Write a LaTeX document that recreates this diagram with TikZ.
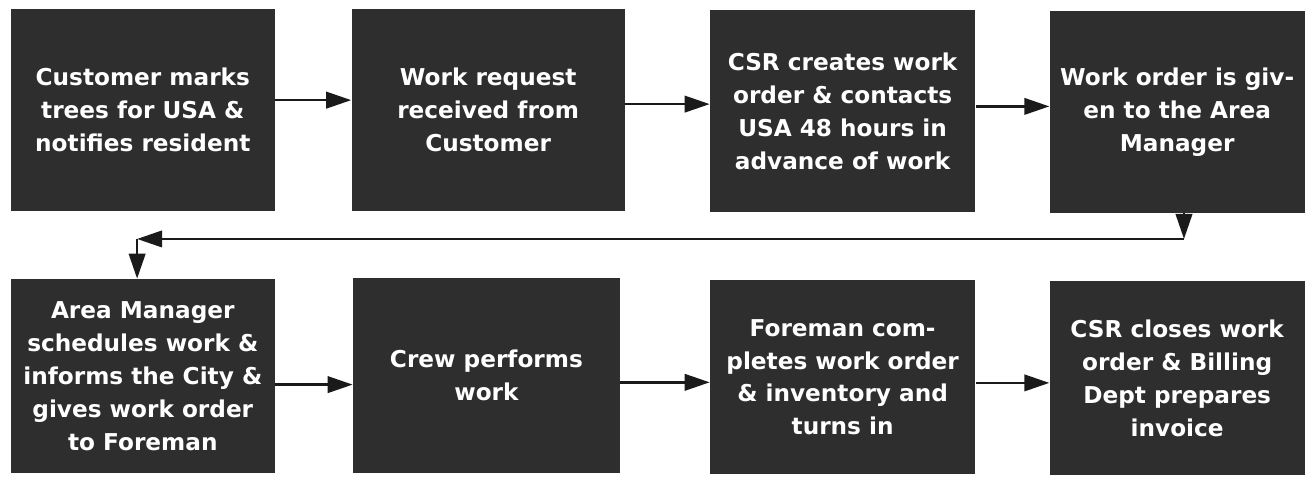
\documentclass[tikz,border=0pt]{standalone}
\usepackage{fontspec}
\setmainfont{DejaVu Sans}
\usepackage{tikz}
\usepackage{xcolor}
\usetikzlibrary{arrows.meta,positioning}
\definecolor{ink}    {HTML}{1A1A1A}
\definecolor{boxdark}{HTML}{2E2E2E}
\tikzset{
  stepbox/.style ={fill=boxdark, draw=none, text=white,
                   minimum width=4.66cm, minimum height=3.55cm,
                   align=center, inner sep=2pt,
                   font=\fontsize{11.6}{16.5}\selectfont\bfseries},
  lowbox/.style  ={stepbox, minimum height=3.41cm},
  flowarr/.style ={-{Triangle[length=4.4mm,width=2.9mm]}, line width=1.2pt, color=ink},
}
\begin{document}
\begin{tikzpicture}[x=1cm,y=1cm]
    \useasboundingbox (0,0) rectangle (23.06,-8.44);
    % top row
    \node[stepbox,minimum width=4.64cm] (mark) at (2.51,-1.93)
      {Customer marks\\trees for USA \&\\notifies resident};
    \node[stepbox,minimum width=4.80cm] (request) at (8.58,-1.93)
      {Work request\\received from\\Customer};
    \node[stepbox] (create) at (14.81,-1.95)
      {CSR creates work\\order \& contacts\\USA 48 hours in\\advance of work};
    \node[stepbox,minimum width=4.48cm] (given) at (20.69,-1.97)
      {Work order is giv-\\en to the Area\\Manager};
    % bottom row
    \node[lowbox,minimum width=4.64cm] (sched) at (2.51,-6.61)
      {Area Manager\\schedules work \&\\informs the City \&\\gives work order\\to Foreman};
    \node[lowbox,minimum width=4.69cm] (crew) at (8.55,-6.60)
      {Crew performs\\work};
    \node[lowbox] (complete) at (14.81,-6.63)
      {Foreman com-\\pletes work order\\\& inventory and\\turns in};
    \node[lowbox,minimum width=4.48cm] (close) at (20.69,-6.65)
      {CSR closes work\\order \& Billing\\Dept prepares\\invoice};
    % connectors
    \coordinate (turnR) at (20.81,-4.20);
    \coordinate (turnL) at (2.41,-4.20);
    \draw[flowarr] ([yshift=0.17cm]mark.east) -- ([yshift=0.17cm]mark.east -| request.west);
    \draw[flowarr] ([yshift=0.1cm]request.east) -- ([yshift=0.1cm]request.east -| create.west);
    \draw[flowarr] ([yshift=0.08cm]create.east) -- ([yshift=0.08cm]create.east -| given.west);
    \draw[flowarr] (given.south -| turnR) -- (turnR);
    \draw[flowarr] (turnR) -- (turnL);
    \draw[flowarr] (turnL) -- (turnL |- sched.north);
    \draw[flowarr] ([yshift=-0.15cm]sched.east) -- ([yshift=-0.15cm]sched.east -| crew.west);
    \draw[flowarr] ([yshift=-0.12cm]crew.east) -- ([yshift=-0.12cm]crew.east -| complete.west);
    \draw[flowarr] ([yshift=-0.1cm]complete.east) -- ([yshift=-0.1cm]complete.east -| close.west);
  \end{tikzpicture}
\end{document}
